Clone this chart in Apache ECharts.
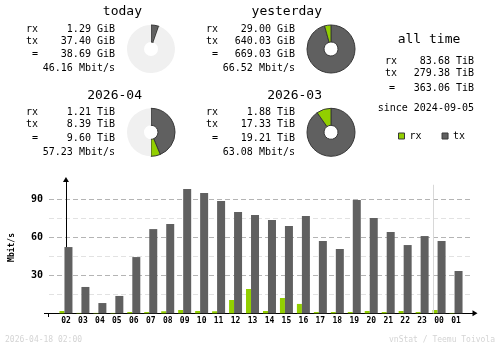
<!DOCTYPE html>
<html><head><meta charset="utf-8">
<script src="https://cdn.jsdelivr.net/npm/echarts@6/dist/echarts.min.js"></script>
<style>html,body{margin:0;padding:0;background:#fff}#c{width:500px;height:348px}</style>
</head><body><div id="c"></div>
<script>
// ---- data ----
const hours = ['02','03','04','05','06','07','08','09','10','11','12','13','14','15','16','17','18','19','20','21','22','23','00','01'];
const rxRate = [1.8,0.3,0.3,0.3,1.0,1.0,1.6,2.6,1.8,1.6,10.5,19.2,1.8,12.1,7.4,1.0,1.0,1.0,1.8,1.0,1.8,1.0,2.6,0.3];
const txRate = [52.3,20.8,8.1,13.7,44.4,66.5,70.5,98.1,95.0,88.7,80.0,77.6,73.7,68.9,76.8,57.1,50.8,89.5,75.2,64.2,53.9,61.0,57.1,33.4];
const yTickLabels = [30, 60, 90];

const periodTitles = ['today', 'yesterday', '2026-04', '2026-03'];
const periodRx = [1.29, 29.00, 1.21, 1.88];
const periodTx = [37.40, 640.03, 8.39, 17.33];
const periodTotal = [38.69, 669.03, 9.60, 19.21];
const periodUnit = ['GiB', 'GiB', 'TiB', 'TiB'];
const periodRate = [46.16, 66.52, 57.23, 63.08];
const pieFill = [0.054, 1, 0.5, 1];

const allTimeRx = 83.68, allTimeTx = 279.38, allTimeTotal = 363.06, allTimeUnit = 'TiB';
const sinceDate = '2024-09-05';
const stampText = '2026-04-18 02:00';
const creditText = 'vnStat / Teemu Toivola';

// ---- style ----
const RX = '#92cf00', TX = '#606060', EMPTY = '#f0f0f0', EDGE = '#383838';
const MONO = '"DejaVu Sans Mono", monospace';

const chart = echarts.init(document.getElementById('c'), null, {renderer: 'canvas'});

const graphic = [];
function txt(x, y, s, size, align, opts) {
  graphic.push(Object.assign({type: 'text', x: x, y: y, silent: true,
    style: {text: s, font: (opts && opts.weight ? opts.weight + ' ' : '') + size + 'px ' + MONO,
      fill: (opts && opts.fill) || '#000', align: align, verticalAlign: 'middle'}}));
}

const pies = [];
periodTitles.forEach((t, i) => {
  const dx = (i % 2) * 180, dy = Math.floor(i / 2) * 83.3;
  txt(142 + dx, 12 + dy, t, 13, 'right');
  txt(26 + dx, 29.3 + dy, 'rx', 10, 'left');
  txt(26 + dx, 41.3 + dy, 'tx', 10, 'left');
  txt(32 + dx, 54.8 + dy, '=', 10, 'left');
  txt(115 + dx, 29.3 + dy, periodRx[i].toFixed(2) + ' ' + periodUnit[i], 10, 'right');
  txt(115 + dx, 41.3 + dy, periodTx[i].toFixed(2) + ' ' + periodUnit[i], 10, 'right');
  txt(115 + dx, 54.8 + dy, periodTotal[i].toFixed(2) + ' ' + periodUnit[i], 10, 'right');
  txt(115 + dx, 68.8 + dy, periodRate[i].toFixed(2) + ' Mbit/s', 10, 'right');
  const filled = periodTx[i] + periodRx[i];
  pies.push({
    type: 'pie', silent: true, animation: false,
    center: [151 + dx, 49 + dy], radius: [7, 24],
    startAngle: 90, clockwise: true, avoidLabelOverlap: false,
    label: {show: false}, labelLine: {show: false},
    emphasis: {disabled: true},
    data: [
      {name: 'tx-part', value: periodTx[i], itemStyle: {color: TX, borderColor: EDGE, borderWidth: 1}},
      {name: 'rx-part', value: periodRx[i], itemStyle: {color: RX, borderColor: EDGE, borderWidth: 1}},
      {name: 'empty', value: filled * (1 / pieFill[i] - 1), itemStyle: {color: EMPTY, borderWidth: 0}}
    ]
  });
});

txt(429, 40, 'all time', 13, 'center');
txt(385, 61.7, 'rx', 10, 'left');
txt(385, 73.3, 'tx', 10, 'left');
txt(389, 88, '=', 10, 'left');
txt(474, 61.7, allTimeRx.toFixed(2) + ' ' + allTimeUnit, 10, 'right');
txt(474, 73.3, allTimeTx.toFixed(2) + ' ' + allTimeUnit, 10, 'right');
txt(474, 88, allTimeTotal.toFixed(2) + ' ' + allTimeUnit, 10, 'right');
txt(474, 108.3, 'since ' + sinceDate, 10, 'right');
txt(5, 340, stampText, 8, 'left', {fill: '#d4d4d4'});
txt(495, 340, creditText, 8, 'right', {fill: '#d4d4d4'});
// small axis overhangs
graphic.push({type: 'line', silent: true, shape: {x1: 44, y1: 313.5, x2: 48, y2: 313.5}, style: {stroke: '#000', lineWidth: 1}});
graphic.push({type: 'line', silent: true, shape: {x1: 48.5, y1: 313, x2: 48.5, y2: 317}, style: {stroke: '#000', lineWidth: 1}});

const sepIndex = hours.indexOf('00') - 0.5;

const option = {
  animation: false,
  backgroundColor: '#fff',
  grid: {left: 48, right: 27, top: 181.6, bottom: 34.7, containLabel: false},
  legend: {
    data: ['rx', 'tx'], left: 398, top: 131, padding: 0, icon: 'rect', itemWidth: 6, itemHeight: 6, itemGap: 20,
    selectedMode: false, itemStyle: {borderColor: EDGE, borderWidth: 1},
    textStyle: {fontFamily: MONO, fontSize: 10, color: '#000'}
  },
  xAxis: {
    type: 'value', min: -1, max: 24, interval: 1,
    axisLine: {show: true, lineStyle: {color: '#000', width: 1}, symbol: ['none', 'triangle'], symbolSize: [6, 5], symbolOffset: [0, 2]},
    axisTick: {show: false}, splitLine: {show: false},
    axisLabel: {margin: 4, fontFamily: MONO, fontSize: 8, fontWeight: 'bold', color: '#000',
      formatter: v => (v >= 0 && v < hours.length) ? hours[v] : ''}
  },
  yAxis: {
    type: 'value', min: 0, max: 104, interval: 15,
    name: 'Mbit/s', nameLocation: 'middle', nameRotate: 90, nameGap: 33,
    nameTextStyle: {fontFamily: MONO, fontSize: 8, fontWeight: 'bold', color: '#000'},
    axisLine: {show: true, lineStyle: {color: '#000', width: 1}, symbol: ['none', 'triangle'], symbolSize: [6, 5], symbolOffset: [0, 2]},
    axisTick: {show: false},
    axisLabel: {margin: 6, fontFamily: MONO, fontSize: 10, fontWeight: 'bold', color: '#000',
      formatter: v => yTickLabels.indexOf(v) >= 0 ? String(v) : ''},
    splitLine: {show: true, showMaxLine: false, lineStyle: {color: ['#b4b4b4', '#e2e2e2'], type: [5, 3], width: 1}}
  },
  graphic: graphic,
  series: [
    {name: 'rx', type: 'bar', barWidth: 5, barGap: '0%', itemStyle: {color: RX},
      data: rxRate.map((v, i) => [i, v]), silent: true},
    {name: 'tx', type: 'bar', barWidth: 8, barGap: '0%', itemStyle: {color: TX},
      data: txRate.map((v, i) => [i, v]), silent: true,
      markLine: {silent: true, symbol: 'none', label: {show: false},
        lineStyle: {color: '#d8d8d8', type: 'solid', width: 1},
        data: [[{coord: [sepIndex, 0]}, {coord: [sepIndex, 101.5]}]]}}
  ].concat(pies)
};
chart.setOption(option);
</script></body></html>
